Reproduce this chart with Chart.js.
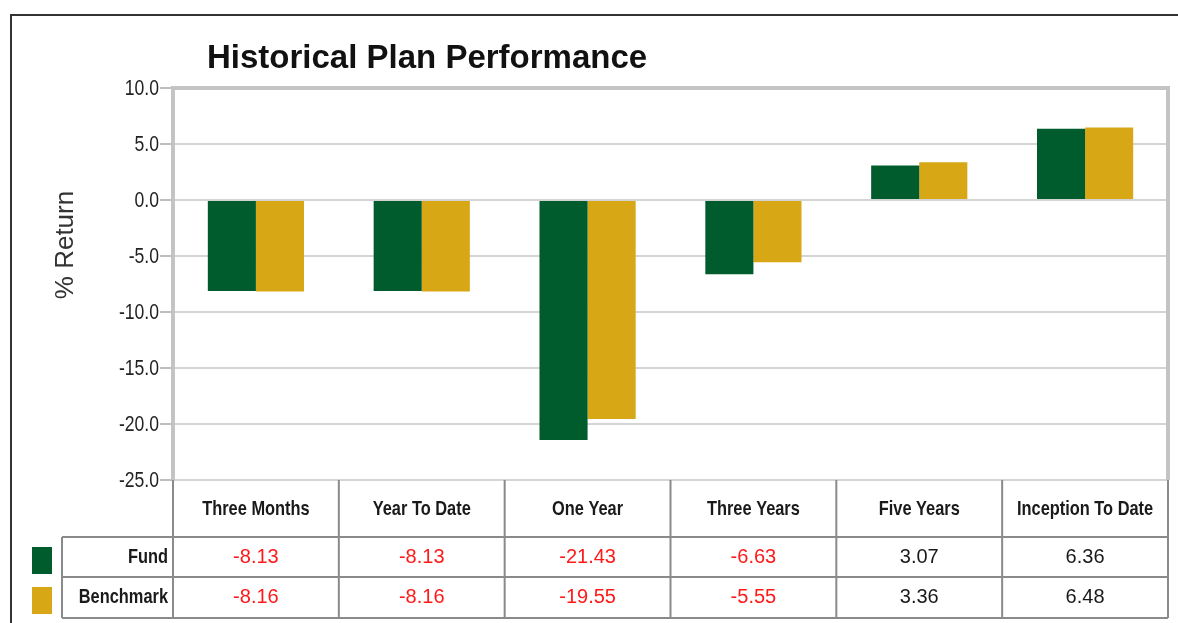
<!DOCTYPE html>
<html>
<head>
<meta charset="utf-8">
<script src="https://cdn.jsdelivr.net/npm/chart.js@4"></script>
<style>
  html, body { margin: 0; padding: 0; background: #fff; }
  #wrap { width: 1178px; height: 623px; position: relative; }
</style>
</head>
<body>
<div id="wrap"><canvas id="perf-chart" width="1178" height="623"></canvas></div>
<script>
// data
const periods = ['Three Months', 'Year To Date', 'One Year', 'Three Years', 'Five Years', 'Inception To Date'];
const fundReturns = [-8.13, -8.13, -21.43, -6.63, 3.07, 6.36];
const benchReturns = [-8.16, -8.16, -19.55, -5.55, 3.36, 6.48];
const seriesNames = ['Fund', 'Benchmark'];
const seriesColors = ['#005c2c', '#d7a715'];
const yTicks = [10, 5, 0, -5, -10, -15, -20, -25];

const REGULAR = '"Liberation Sans", Arial, sans-serif';

// no narrow font installed, so squeeze text horizontally
function narrowText(ctx, text, x, y, squeeze) {
    ctx.save();
    ctx.translate(x, y);
    ctx.scale(squeeze, 1);
    ctx.fillText(text, 0, 0);
    ctx.restore();
}

// title, frame, axis title, tick labels and the data table under the bars
const tablePlugin = {
    id: 'tablePlugin',
    afterDraw(chart) {
        const ctx = chart.ctx;
        const x = chart.scales.x;
        const y = chart.scales.y;
        const area = chart.chartArea;
        const colW = (area.right - area.left) / periods.length;
        const headTop = area.bottom;
        const rowTops = [headTop + 57, headTop + 97];
        const tableBottom = headTop + 138;
        const legendLeft = 62;

        ctx.save();
        // outer frame
        ctx.strokeStyle = '#333';
        ctx.lineWidth = 2;
        ctx.beginPath();
        ctx.moveTo(11, 623);
        ctx.lineTo(11, 15);
        ctx.lineTo(1178, 15);
        ctx.stroke();

        // title
        ctx.fillStyle = '#111';
        ctx.font = 'bold 33px ' + REGULAR;
        ctx.textAlign = 'left';
        ctx.textBaseline = 'alphabetic';
        ctx.fillText('Historical Plan Performance', 207, 68);

        // y axis title
        ctx.save();
        ctx.translate(66, 245);
        ctx.rotate(-Math.PI / 2);
        ctx.font = '26px ' + REGULAR;
        ctx.fillStyle = '#333';
        ctx.textAlign = 'center';
        ctx.textBaseline = 'middle';
        ctx.fillText('% Return', 0, 0);
        ctx.restore();

        // y tick labels
        ctx.font = '22px ' + REGULAR;
        ctx.fillStyle = '#222';
        ctx.textAlign = 'right';
        ctx.textBaseline = 'middle';
        yTicks.forEach(t => {
            narrowText(ctx, t.toFixed(1), 159, y.getPixelForValue(t) + 1, 0.8);
        });

        // table grid
        ctx.strokeStyle = '#8a8a8a';
        ctx.lineWidth = 2;
        ctx.beginPath();
        for (let i = 0; i <= periods.length; i++) {
            const cx = area.left + i * colW;
            ctx.moveTo(cx, headTop);
            ctx.lineTo(cx, tableBottom);
        }
        ctx.moveTo(legendLeft, rowTops[0]);
        ctx.lineTo(legendLeft, tableBottom);
        rowTops.concat([tableBottom]).forEach(ry => {
            ctx.moveTo(legendLeft, ry);
            ctx.lineTo(area.right, ry);
        });
        ctx.stroke();

        // header row
        ctx.textAlign = 'center';
        ctx.textBaseline = 'middle';
        ctx.font = 'bold 21px ' + REGULAR;
        ctx.fillStyle = '#1a1a1a';
        periods.forEach((p, i) => {
            narrowText(ctx, p, x.getPixelForValue(i), headTop + 29, 0.78);
        });

        // value rows
        [fundReturns, benchReturns].forEach((vals, r) => {
            const cy = rowTops[r] + 20;
            ctx.fillStyle = seriesColors[r];
            ctx.fillRect(32, rowTops[r] + 10, 20, 27);
            ctx.font = 'bold 21px ' + REGULAR;
            ctx.fillStyle = '#1a1a1a';
            ctx.textAlign = 'right';
            narrowText(ctx, seriesNames[r], area.left - 5, cy, 0.78);
            ctx.font = '20px ' + REGULAR;
            ctx.textAlign = 'center';
            vals.forEach((v, i) => {
                ctx.fillStyle = v < 0 ? '#ff1a1a' : '#1a1a1a';
                ctx.fillText(v.toFixed(2), x.getPixelForValue(i), cy);
            });
        });

        // plot border (left, top, right)
        ctx.strokeStyle = '#c4c4c4';
        ctx.lineWidth = 4;
        ctx.beginPath();
        ctx.moveTo(area.left, area.bottom);
        ctx.lineTo(area.left, area.top);
        ctx.lineTo(area.right, area.top);
        ctx.lineTo(area.right, area.bottom);
        ctx.stroke();
        ctx.restore();
    }
};

document.addEventListener('DOMContentLoaded', function () {
    const ctx = document.getElementById('perf-chart').getContext('2d');

    const perfChart = new Chart(ctx, {
        type: 'bar',
        data: {
            labels: periods,
            datasets: [{
                label: seriesNames[0],
                data: fundReturns,
                backgroundColor: seriesColors[0],
                categoryPercentage: 0.58,
                barPercentage: 1.0
            }, {
                label: seriesNames[1],
                data: benchReturns,
                backgroundColor: seriesColors[1],
                categoryPercentage: 0.58,
                barPercentage: 1.0
            }]
        },
        options: {
            responsive: false,
            animation: false,
            layout: {
                padding: { top: 88, bottom: 143, left: 0, right: 10 }
            },
            plugins: {
                legend: { display: false },
                tooltip: { enabled: false }
            },
            scales: {
                x: {
                    display: false
                },
                y: {
                    min: -25,
                    max: 10,
                    afterFit: scale => { scale.width = 173; },
                    ticks: {
                        stepSize: 5,
                        color: 'rgba(0,0,0,0)',
                        font: { family: REGULAR, size: 19 }
                    },
                    grid: {
                        color: '#d4d4d4',
                        lineWidth: 2,
                        tickLength: 13,
                        tickColor: '#bdbdbd'
                    },
                    border: { display: false }
                }
            }
        },
        plugins: [tablePlugin]
    });
});
</script>
</body>
</html>
